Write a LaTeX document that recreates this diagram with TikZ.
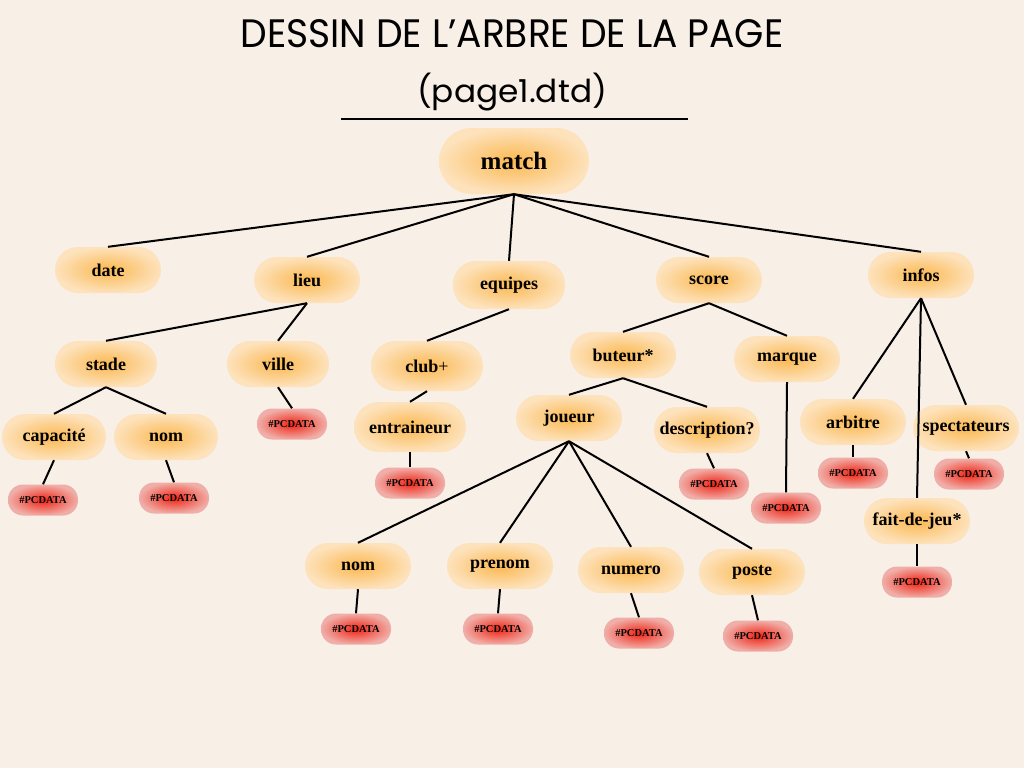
\documentclass[tikz,border=0pt]{standalone}
\usepackage{fontspec}
\setmainfont{Liberation Serif}
\newfontfamily\titlefont{Poppins}
\newfontfamily\nodefont{Liberation Serif}
\definecolor{bg}{HTML}{F8EFE6}
\definecolor{oin}{HTML}{FBB850}
\definecolor{oout}{HTML}{FDE2BC}
\definecolor{rin}{HTML}{F02414}
\definecolor{rout}{HTML}{F0AEA8}
\tikzset{
  el/.style={rounded corners=23pt, shading=radial, inner color=oin, outer color=oout,
    minimum height=46pt, minimum width=106pt, inner sep=0pt,
    font=\nodefont\bfseries\fontsize{18}{21}\selectfont},
  pc/.style={rounded corners=15pt, shading=radial, inner color=rin, outer color=rout,
    minimum height=31pt, minimum width=70pt, inner sep=0pt,
    font=\nodefont\bfseries\fontsize{10.5}{12}\selectfont},
  link/.style={line width=2pt, black}
}
\begin{document}
\begin{tikzpicture}[x=1pt,y=-1pt]
\fill[bg] (0,0) rectangle (1024,768);
\useasboundingbox (0,0) rectangle (1024,768);
% title
\node (t1) at (512,34) {\resizebox{543pt}{28pt}{\titlefont DESSIN DE L’ARBRE DE LA PAGE}};
\node (t2) at (512,92) {\resizebox*{190pt}{38pt}{\titlefont (page1.dtd)}};
\coordinate (u1) at (341,119);
\coordinate (u2) at (688,119);
\draw[line width=1.8pt] (u1) -- (u2);
% level 0
\node[el, minimum width=150pt, minimum height=66pt, rounded corners=33pt,
  font=\nodefont\bfseries\fontsize{25}{28}\selectfont] (match) at (514,161) {match};
% level 1
\node[el] (date) at (108,270) {date};
\node[el] (lieu) at (307,280) {lieu};
\node[el, minimum width=112pt, minimum height=48pt] (equipes) at (509,285) {equipes};
\node[el] (score) at (709,280) {score};
\node[el] (infos) at (921,275) {infos};
% level 2
\node[el, minimum width=102pt] (stade) at (106,364) {stade};
\node[el, minimum width=102pt] (ville) at (278,364) {ville};
\node[el, minimum width=112pt, minimum height=50pt, rounded corners=25pt] (club) at (427,366) {club\textmd{+}};
\node[el] (buteur) at (623,355) {buteur*};
\node[el] (marque) at (787,359) {marque};
% level 3
\node[el, minimum width=104pt] (capacite) at (54,437) {capacité};
\node[el, minimum width=104pt] (nom1) at (166,437) {nom};
\node[pc] (pville) at (292,424) {\#PCDATA};
\node[el, minimum width=112pt, minimum height=50pt, rounded corners=25pt] (entraineur) at (410,427) {entraineur};
\node[el] (joueur) at (569,418) {joueur};
\node[el] (descr) at (707,430) {description?};
\node[el] (arbitre) at (853,422) {arbitre};
\node[el] (spect) at (966,428) {spectateurs};
% pcdata row
\node[pc] (pcap) at (43,500) {\#PCDATA};
\node[pc] (pnom1) at (174,498) {\#PCDATA};
\node[pc] (pentr) at (410,483) {\#PCDATA};
\node[pc] (pdescr) at (714,484) {\#PCDATA};
\node[pc] (pmarque) at (786,508) {\#PCDATA};
\node[pc] (parb) at (853,473) {\#PCDATA};
\node[pc] (pspect) at (969,474) {\#PCDATA};
\node[el] (fait) at (917,521) {fait-de-jeu*};
\node[pc] (pfait) at (917,582) {\#PCDATA};
% joueur children
\node[el] (nom2) at (358,566) {nom};
\node[el] (prenom) at (500,566) {prenom};
\node[el] (numero) at (631,570) {numero};
\node[el] (poste) at (752,572) {poste};
\node[pc] (pnom2) at (356,629) {\#PCDATA};
\node[pc] (pprenom) at (498,629) {\#PCDATA};
\node[pc] (pnumero) at (639,633) {\#PCDATA};
\node[pc] (pposte) at (758,636) {\#PCDATA};
% links
\foreach \c in {date,lieu,equipes,score,infos} \draw[link] (match.south) -- (\c.north);
\foreach \c in {stade,ville} \draw[link] (lieu.south) -- (\c.north);
\draw[link] (equipes.south) -- (club.north);
\draw[link] (club.south) -- (entraineur.north);
\foreach \c in {buteur,marque} \draw[link] (score.south) -- (\c.north);
\foreach \c in {joueur,descr} \draw[link] (buteur.south) -- (\c.north);
\foreach \c in {arbitre,spect,fait} \draw[link] (infos.south) -- (\c.north);
\foreach \c in {capacite,nom1} \draw[link] (stade.south) -- (\c.north);
\foreach \c in {nom2,prenom,numero,poste} \draw[link] (joueur.south) -- (\c.north);
\draw[link] (ville.south) -- (pville.north);
\draw[link] (capacite.south) -- (pcap.north);
\draw[link] (nom1.south) -- (pnom1.north);
\draw[link] (entraineur.south) -- (pentr.north);
\draw[link] (descr.south) -- (pdescr.north);
\draw[link] (marque.south) -- (pmarque.north);
\draw[link] (arbitre.south) -- (parb.north);
\draw[link] (spect.south) -- (pspect.north);
\draw[link] (fait.south) -- (pfait.north);
\draw[link] (nom2.south) -- (pnom2.north);
\draw[link] (prenom.south) -- (pprenom.north);
\draw[link] (numero.south) -- (pnumero.north);
\draw[link] (poste.south) -- (pposte.north);
\end{tikzpicture}
\end{document}
